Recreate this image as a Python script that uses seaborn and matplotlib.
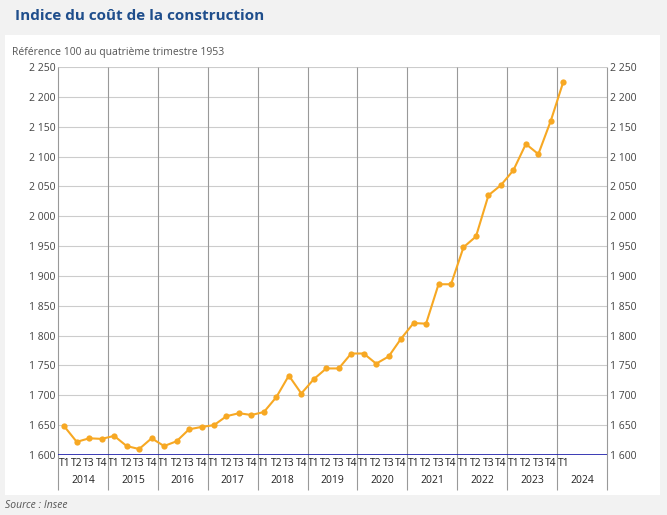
import matplotlib
matplotlib.use("Agg")
import matplotlib.pyplot as plt
import matplotlib.patches as mpatches
import seaborn as sns
import pandas as pd

years = ["2014","2015","2016","2017","2018","2019","2020","2021","2022","2023","2024"]
quarters = ["T1","T2","T3","T4"]
values = [1648,1622,1628,1627, 1632,1615,1610,1628, 1615,1623,1643,1647,
          1650,1665,1670,1667, 1672,1697,1733,1703, 1727,1745,1745,1770,
          1770,1753,1765,1795, 1821,1820,1886,1886, 1948,1966,2035,2052,
          2077,2121,2104,2160, 2225]
yticks = list(range(1600, 2251, 50))

labels = [q for y in years for q in quarters][:len(values)]
df = pd.DataFrame({"i": range(len(values)), "v": values})

plt.rcParams["font.family"] = "Open Sans"
fig = plt.figure(figsize=(6.67, 5.15), dpi=100, facecolor="#f2f2f2")
fig.patches.append(mpatches.Rectangle((5/667, 20/515), 655/667, 460/515,
                   transform=fig.transFigure, facecolor="white", edgecolor="none", zorder=-10))
ax = fig.add_axes([0.087, 0.1165, 0.823, 0.7535])
ax.set_zorder(2)
ax.set_facecolor("white")
ax.set_ylim(1600, 2250)
ax.set_yticks(yticks)
fmt = [f"{t:,}".replace(",", " ") for t in yticks]
ax.set_yticklabels(fmt)
ax.tick_params(axis="y", length=0, labelsize=7.5, colors="#444444", pad=2)
ax.yaxis.grid(True, color="#cccccc", lw=0.8)
ax.set_axisbelow(True)
ax2 = ax.twinx()
ax2.set_zorder(1)
ax2.patch.set_visible(False)
ax2.set_ylim(1600, 2250)
ax2.set_yticks(yticks)
ax2.set_yticklabels(fmt)
ax2.tick_params(axis="y", length=0, labelsize=7.5, colors="#444444", pad=2)
sns.lineplot(data=df, x="i", y="v", ax=ax, color="#f7a823", lw=1.5,
             marker="o", markersize=4.5, markeredgewidth=0, zorder=3)
ax.set_xlim(-0.5, 43.5)
ax.set_ylim(1600, 2250)
for a in (ax, ax2):
    for s in a.spines.values():
        s.set_visible(False)
ax.axhline(1600, color="#1a1aa8", lw=1.2, zorder=4)
ax.set_xticks(range(len(values)))
ax.set_xticklabels(labels)
ax.tick_params(axis="x", length=0, labelsize=7.5, colors="#222222", pad=2)
ax.set_xlabel(""); ax.set_ylabel("")
tr = ax.get_xaxis_transform()
for k in range(len(years) + 1):
    xb = 4 * k - 0.5 if k < len(years) else 43.5
    ax.vlines(xb, -0.09, 1, transform=tr, color="#999999", lw=0.8, clip_on=False, zorder=1)
for k, y in enumerate(years):
    ax.text(4 * k + 1.5, -0.065, y, transform=tr, ha="center", va="center",
            fontsize=7.5, color="#222222")
fig.text(15/667, 1 - 16/515, "Indice du coût de la construction", fontsize=11,
         fontweight="bold", color="#1f4e8c", va="center")
fig.text(12/667, 1 - 52/515, "Référence 100 au quatrième trimestre 1953", fontsize=7.5,
         color="#555555", va="center")
fig.text(5/667, 1 - 506/515, "Source : Insee", fontsize=7.5, style="italic",
         color="#555555", va="center")
fig.savefig("out.png", dpi=100, facecolor=fig.get_facecolor())
